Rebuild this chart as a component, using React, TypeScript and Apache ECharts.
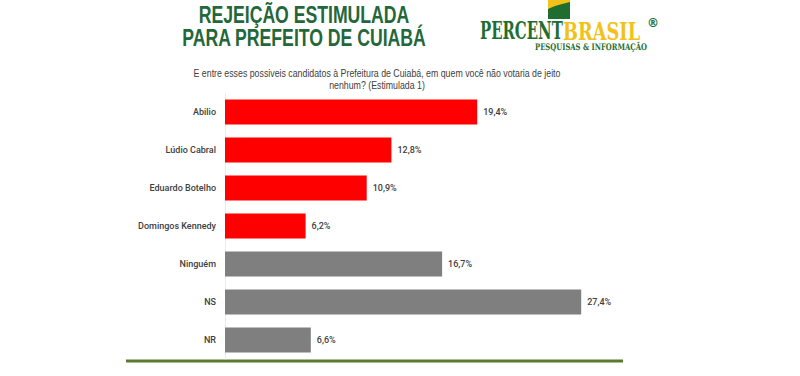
import React, { useEffect, useRef } from "react";
import * as echarts from "echarts";

const categories = ["Abilio", "Lúdio Cabral", "Eduardo Botelho", "Domingos Kennedy", "Ninguém", "NS", "NR"];
const values = [19.4, 12.8, 10.9, 6.2, 16.7, 27.4, 6.6];
const isCandidate = [true, true, true, true, false, false, false];
const titleLines = ["REJEIÇÃO ESTIMULADA", "PARA PREFEITO DE CUIABÁ"];
const questionLines = [
  "E entre esses possiveis candidatos à Prefeitura de Cuiabá, em quem você não votaria de jeito",
  "nenhum? (Estimulada 1)",
];

const RED = "#ff0000";
const GRAY = "#7f7f7f";
const TITLE_GREEN = "#23673a";
const LOGO_GREEN = "#1f6e30";
const LOGO_YELLOW = "#f2c21b";
const LABEL_FONT = "Roboto, 'Liberation Sans', Arial, sans-serif";

export default function App() {
  const ref = useRef<HTMLDivElement>(null);
  useEffect(() => {
    if (!ref.current) return;
    const chart = echarts.init(ref.current, null, { renderer: "svg" });
    chart.setOption({
      animation: false,
      backgroundColor: "#ffffff",
      grid: { left: 225, top: 93, width: 390, height: 266, containLabel: false },
      xAxis: {
        type: "value",
        min: 0,
        max: 30,
        show: false,
      },
      yAxis: {
        type: "category",
        data: categories,
        inverse: true,
        axisLine: { show: true, lineStyle: { color: "#ececec", width: 1 } },
        axisTick: { show: false },
        axisLabel: {
          margin: 9,
          fontSize: 9,
          fontWeight: 500,
          color: "#404040",
          fontFamily: LABEL_FONT,
        },
      },
      series: [
        {
          type: "bar",
          barWidth: 25,
          data: values.map((v, i) => ({
            value: v,
            itemStyle: { color: isCandidate[i] ? RED : GRAY },
          })),
          label: {
            show: true,
            position: "right",
            distance: 6,
            fontSize: 9,
            fontWeight: 500,
            color: "#404040",
            fontFamily: LABEL_FONT,
            formatter: (p: any) => p.value.toFixed(1).replace(".", ",") + "%",
          },
        },
      ],
      graphic: [
        {
          type: "text",
          x: 304,
          y: 2,
          scaleX: 0.735,
          style: {
            text: titleLines[0],
            fill: TITLE_GREEN,
            font: "bold 24px 'Liberation Sans', Arial, sans-serif",
            textAlign: "center",
            textVerticalAlign: "top",
          },
        },
        {
          type: "text",
          x: 304,
          y: 25,
          scaleX: 0.735,
          style: {
            text: titleLines[1],
            fill: TITLE_GREEN,
            font: "bold 24px 'Liberation Sans', Arial, sans-serif",
            textAlign: "center",
            textVerticalAlign: "top",
          },
        },
        {
          type: "text",
          x: 377,
          y: 68,
          scaleX: 0.88,
          style: {
            text: questionLines[0],
            fill: "#404040",
            font: "10px 'Liberation Sans', Arial, sans-serif",
            textAlign: "center",
            textVerticalAlign: "top",
          },
        },
        {
          type: "text",
          x: 377,
          y: 80,
          scaleX: 0.88,
          style: {
            text: questionLines[1],
            fill: "#404040",
            font: "10px 'Liberation Sans', Arial, sans-serif",
            textAlign: "center",
            textVerticalAlign: "top",
          },
        },
        // logo pillar
        {
          type: "rect",
          shape: { x: 548, y: 0, width: 22, height: 19 },
          style: { fill: LOGO_GREEN },
        },
        {
          type: "polygon",
          shape: {
            points: [
              [548, 0],
              [570, 0],
              [570, 2],
              [562, 4],
              [555, 6],
              [548, 9],
            ],
          },
          style: { fill: LOGO_YELLOW },
        },
        {
          type: "text",
          x: 480,
          y: 19,
          scaleX: 0.62,
          style: {
            text: "PERCENT",
            fill: LOGO_GREEN,
            font: "bold 24px 'DejaVu Serif', serif",
            textAlign: "left",
            textVerticalAlign: "top",
          },
        },
        {
          type: "text",
          x: 563,
          y: 19,
          scaleX: 0.74,
          style: {
            text: "BRASIL",
            fill: LOGO_YELLOW,
            font: "bold 24px 'DejaVu Serif', serif",
            textAlign: "left",
            textVerticalAlign: "top",
          },
        },
        {
          type: "text",
          x: 647,
          y: 17,
          style: {
            text: "®",
            fill: LOGO_GREEN,
            font: "bold 12px 'DejaVu Sans', sans-serif",
            textAlign: "left",
            textVerticalAlign: "top",
          },
        },
        {
          type: "text",
          x: 535,
          y: 42,
          scaleX: 0.76,
          style: {
            text: "PESQUISAS & INFORMAÇÃO",
            fill: LOGO_GREEN,
            font: "bold 9px 'DejaVu Serif', serif",
            textAlign: "left",
            textVerticalAlign: "top",
          },
        },
        {
          type: "line",
          shape: { x1: 126, y1: 361, x2: 623, y2: 361 },
          style: { stroke: "#5b7a2e", lineWidth: 3 },
        },
      ],
    });
    return () => chart.dispose();
  }, []);
  return (
    <div
      ref={ref}
      style={{ position: "fixed", left: 0, top: 0, width: 800, height: 376 }}
    />
  );
}
